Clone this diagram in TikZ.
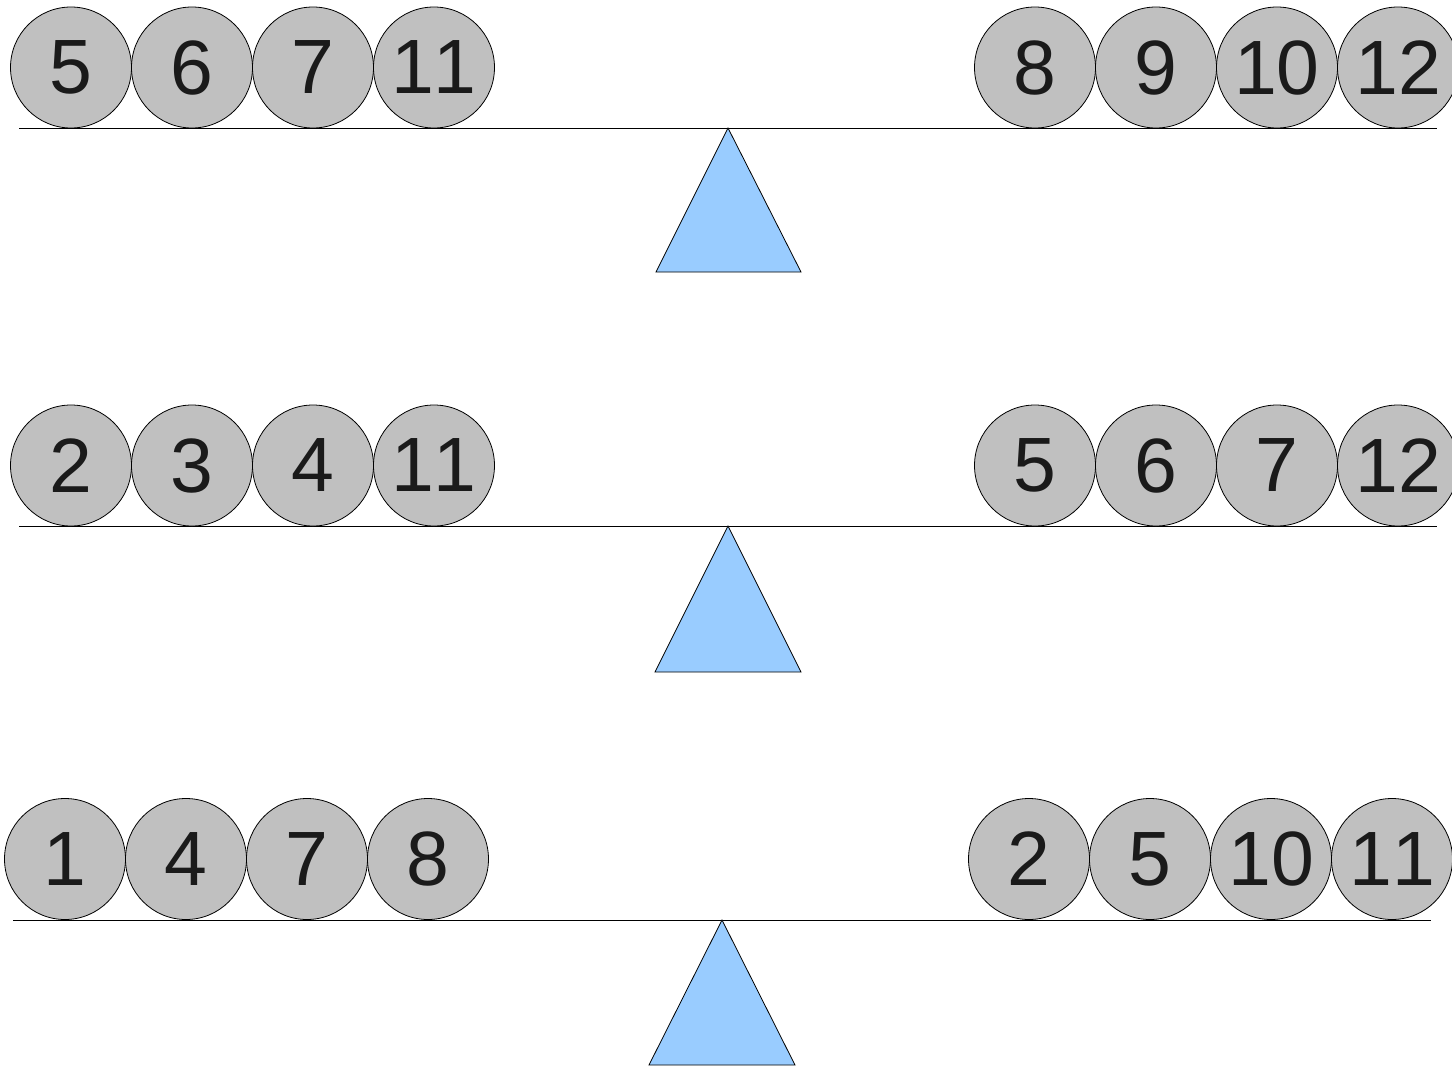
\documentclass[tikz,border=0pt]{standalone}
\usepackage{fontspec}
\setmainfont[Kerning=Off]{Liberation Sans}
\definecolor{ballgray}{HTML}{C0C0C0}
\definecolor{fulcblue}{HTML}{99CCFF}
\definecolor{digit}{HTML}{1A1A1A}
\begin{document}
\begin{tikzpicture}[x=1pt,y=-1pt,
  ball/.style={circle,draw=black,line width=0.8pt,fill=ballgray,minimum size=121pt,inner sep=0pt,
    font=\fontsize{77}{77}\selectfont,text=digit},
  beam/.style={draw=black,line width=1pt},
  fulcrum/.style={draw=black,line width=0.8pt,fill=fulcblue,line join=miter}]
\useasboundingbox (0,0) rectangle (1452,1066);
% scale 1
\coordinate (b1l) at (19,128); \coordinate (b1r) at (1437,128);
\coordinate (t1a) at (728,128); \coordinate (t1l) at (656,272); \coordinate (t1r) at (801,272);
\draw[beam] (b1l) -- (b1r);
\draw[fulcrum] (t1a) -- (t1r) -- (t1l) -- cycle;
\node[ball] (s1a) at (71,67.5) {5};
\node[ball] (s1b) at (192,67.5) {6};
\node[ball] (s1c) at (313,67.5) {7};
\node[ball] (s1d) at (434,67.5) {11};
\node[ball] (s1e) at (1035,67.5) {8};
\node[ball] (s1f) at (1156,67.5) {9};
\node[ball] (s1g) at (1277,67.5) {10};
\node[ball] (s1h) at (1398,67.5) {12};
% scale 2
\coordinate (b2l) at (19,526); \coordinate (b2r) at (1437,526);
\coordinate (t2a) at (728,526); \coordinate (t2l) at (655,672); \coordinate (t2r) at (801,672);
\draw[beam] (b2l) -- (b2r);
\draw[fulcrum] (t2a) -- (t2r) -- (t2l) -- cycle;
\node[ball] (s2a) at (71,465.5) {2};
\node[ball] (s2b) at (192,465.5) {3};
\node[ball] (s2c) at (313,465.5) {4};
\node[ball] (s2d) at (434,465.5) {11};
\node[ball] (s2e) at (1035,465.5) {5};
\node[ball] (s2f) at (1156,465.5) {6};
\node[ball] (s2g) at (1277,465.5) {7};
\node[ball] (s2h) at (1398,465.5) {12};
% scale 3
\coordinate (b3l) at (13,920); \coordinate (b3r) at (1431,920);
\coordinate (t3a) at (722,920); \coordinate (t3l) at (649,1065); \coordinate (t3r) at (795,1065);
\draw[beam] (b3l) -- (b3r);
\draw[fulcrum] (t3a) -- (t3r) -- (t3l) -- cycle;
\node[ball] (s3a) at (65,859) {1};
\node[ball] (s3b) at (186,859) {4};
\node[ball] (s3c) at (307,859) {7};
\node[ball] (s3d) at (428,859) {8};
\node[ball] (s3e) at (1029,859) {2};
\node[ball] (s3f) at (1150,859) {5};
\node[ball] (s3g) at (1271,859) {10};
\node[ball] (s3h) at (1392,859) {11};
\end{tikzpicture}
\end{document}
